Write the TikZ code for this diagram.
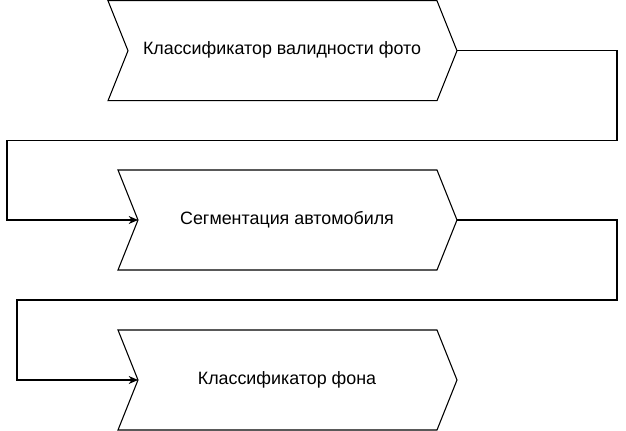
\documentclass[tikz,border=0pt]{standalone}
\usepackage{fontspec}
\setmainfont{Liberation Sans}
\usetikzlibrary{arrows.meta}
\begin{document}
\begin{tikzpicture}[x=0.75pt,y=-0.75pt,
	stepshape/.style={draw=black,line width=0.8pt,line join=miter},
	steplabel/.style={font=\fontsize{13.4}{16}\selectfont,inner sep=0pt},
	flow/.style={draw=black,line width=0.8pt,-{Stealth[length=7pt,width=6pt]}}]
	\useasboundingbox (0,0) rectangle (626,431);
% Les trois etapes (chevrons)
	\foreach \nm/\xl/\yt in {s1/108/0.7,s2/118/170,s3/118/330}{
		\draw[stepshape] (\xl,\yt) -- (437,\yt) -- (457,\yt+50) -- (437,\yt+100)
			-- (\xl,\yt+100) -- (\xl+20,\yt+50) -- cycle;
		\coordinate (\nm-in) at (\xl+20,\yt+50);
		\coordinate (\nm-out) at (457,\yt+50);
	};
% Textes
	\node[steplabel] (t1) at (282,50) {Классификатор валидности фото};
	\node[steplabel] (t2) at (287,220) {Сегментация автомобиля};
	\node[steplabel] (t3) at (287,380) {Классификатор фона};
% Liaisons
	\draw[flow] (s1-out) -- ++(160,0) |- ++(-610,90) |- (s2-in);
	\draw[flow] (s2-out) -- ++(160,0) |- ++(-600,80) |- (s3-in);
\end{tikzpicture}
\end{document}
